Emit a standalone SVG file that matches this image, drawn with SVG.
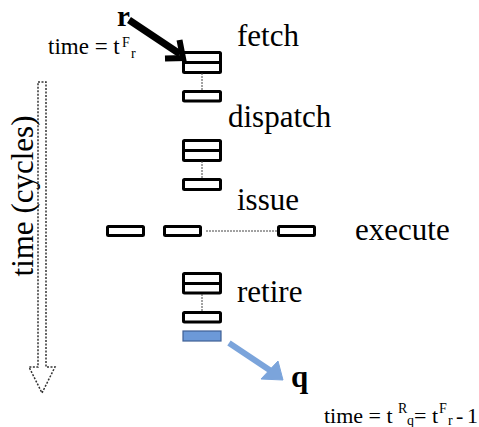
<svg xmlns="http://www.w3.org/2000/svg" width="479" height="427" viewBox="0 0 479 427">
  <style>
    .lbl { font-family: "Liberation Serif", "Times New Roman", serif; font-size: 31px; fill: #000; }
    .small { font-family: "Liberation Serif", "Times New Roman", serif; font-size: 22px; fill: #000; }
    .sup { font-size: 14px; }
    .bold { font-weight: bold; }
    .box { fill: #fff; stroke: #000; stroke-width: 3; }
    .div { stroke: #000; stroke-width: 3; }
    .dot { stroke: #444; stroke-width: 1; stroke-dasharray: 2 1; fill: none; }
  </style>

  <!-- time axis: dotted block arrow -->
  <g id="time-axis">
    <path d="M38,82 H46 V367 H55 L42,393 L29,367 H38 Z" fill="none" stroke="#333" stroke-width="1.5" stroke-dasharray="2 1.5"/>
    <text class="lbl" transform="translate(33,196) rotate(-90)" text-anchor="middle">time (cycles)</text>
  </g>

  <!-- fetch stage -->
  <g id="fetch">
    <rect class="box" x="183.5" y="52.5" width="37" height="20" rx="1"/>
    <line class="div" x1="183.5" y1="62.5" x2="220.5" y2="62.5"/>
    <rect class="box" x="183.5" y="91.5" width="37" height="9.5" rx="1"/>
    <text class="lbl" x="237" y="46">fetch</text>
  </g>

  <!-- dispatch stage -->
  <g id="dispatch">
    <rect class="box" x="183.5" y="140.5" width="37" height="20" rx="1"/>
    <line class="div" x1="183.5" y1="150.5" x2="220.5" y2="150.5"/>
    <rect class="box" x="183.5" y="179.5" width="37" height="10" rx="1"/>
    <text class="lbl" x="228" y="127">dispatch</text>
  </g>

  <!-- issue / execute stage -->
  <g id="issue">
    <text class="lbl" x="237" y="210">issue</text>
  </g>
  <g id="execute">
    <rect class="box" x="107.5" y="226.5" width="36" height="9" rx="1"/>
    <rect class="box" x="164.5" y="226.5" width="36" height="9" rx="1"/>
    <rect class="box" x="278.5" y="226.5" width="36" height="9" rx="1"/>
    <text class="lbl" x="355" y="240">execute</text>
  </g>

  <!-- retire stage -->
  <g id="retire">
    <rect class="box" x="183.5" y="273.5" width="37" height="19.5" rx="1"/>
    <line class="div" x1="183.5" y1="283.5" x2="220.5" y2="283.5"/>
    <rect class="box" x="183.5" y="312.5" width="37" height="9.5" rx="1"/>
    <rect x="183" y="331" width="38" height="10" fill="#6C99D8" stroke="#3F5F95" stroke-width="1.2"/>
    <text class="lbl" x="237" y="302">retire</text>
  </g>

  <!-- instruction r entering fetch -->
  <g id="instr-r">
    <text class="lbl bold" x="117" y="26" style="font-size:29px">r</text>
    <text class="small" x="48" y="54" style="font-size:23px">time = t<tspan class="sup" x="122" y="47">F</tspan><tspan class="sup" x="131" y="58">r</tspan></text>
  </g>

  <!-- instruction q leaving retire -->
  <g id="instr-q">
    <text class="lbl bold" x="291" y="387">q</text>
    <text class="small" x="324" y="423">time = t<tspan class="sup" x="398" y="413">R</tspan><tspan class="sup" x="407" y="425">q</tspan><tspan x="414" y="423">= t</tspan><tspan class="sup" x="439" y="413">F</tspan><tspan class="sup" x="448" y="425">r</tspan><tspan x="456" y="423">-</tspan><tspan x="467" y="423">1</tspan></text>
  </g>

  <!-- connectors -->
  <g id="connectors">
    <line class="dot" x1="202" y1="73" x2="202" y2="90"/>
    <line class="dot" x1="202" y1="161" x2="202" y2="178"/>
    <line class="dot" x1="202" y1="294" x2="202" y2="311"/>
    <line class="dot" x1="206" y1="231" x2="277" y2="231"/>
    <!-- r arrow -->
    <line x1="129" y1="20" x2="180" y2="54" stroke="#000" stroke-width="7"/>
    <polyline points="165,58.5 183,58 179.5,40" fill="none" stroke="#000" stroke-width="6" stroke-linejoin="miter" stroke-linecap="butt"/>
    <!-- q arrow -->
    <line x1="229" y1="343" x2="271" y2="371" stroke="#7BA4DB" stroke-width="6"/>
    <path d="M283,380 L261,379 L278,361 Z" fill="#7BA4DB" stroke="#7BA4DB" stroke-width="1" stroke-linejoin="miter"/>
  </g>
</svg>
